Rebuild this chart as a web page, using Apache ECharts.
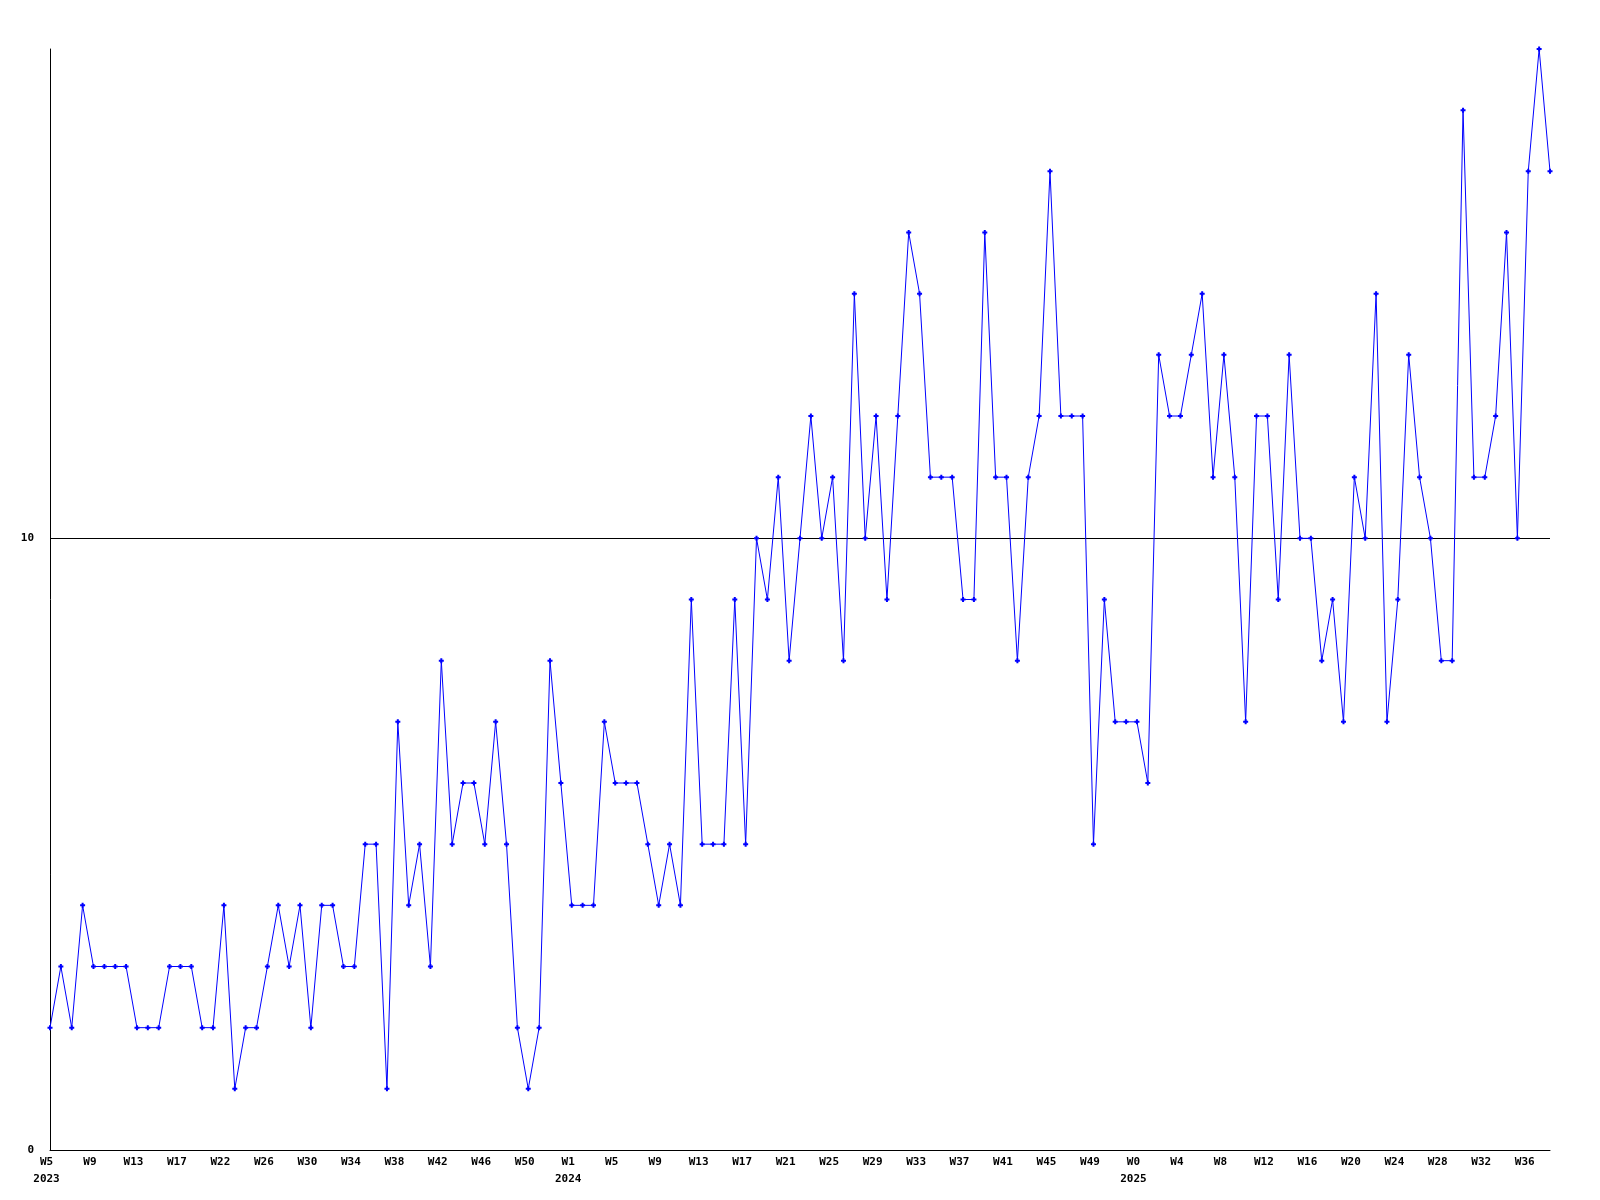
<!DOCTYPE html>
<html>
<head>
<meta charset="utf-8">
<script src="https://cdn.jsdelivr.net/npm/echarts@6/dist/echarts.min.js"></script>
<style>html,body{margin:0;padding:0;background:#fff}#c{width:1600px;height:1200px}</style>
</head>
<body>
<div id="c"></div>
<script>
// Weekly values, 2023 W5 onward
const values = [
  2,3,2,4,3,3,3,3,2,2,2,3,3,3,2,2,4,1,2,
  2,3,4,3,4,2,4,4,3,3,5,5,1,7,4,5,3,8,
  5,6,6,5,7,5,2,1,2,8,6,4,4,4,7,6,6,6,5,
  4,5,4,9,5,5,5,9,5,10,9,11,8,10,12,10,11,8,14,
  10,12,9,12,15,14,11,11,11,9,9,15,11,11,8,11,12,16,12,
  12,12,5,9,7,7,7,6,13,12,12,13,14,11,13,11,7,12,12,
  9,13,10,10,8,9,7,11,10,14,7,9,13,11,10,8,8,17,11,
  11,12,15,10,16,18,16
];
// Tick labels shown every 4th week
const tickLabels = [
  'W5\n2023','W9','W13','W17','W22','W26','W30','W34','W38','W42','W46','W50',
  'W1\n2024','W5','W9','W13','W17','W21','W25','W29','W33','W37','W41','W45','W49',
  'W0\n2025','W4','W8','W12','W16','W20','W24','W28','W32','W36'
];
const yTicks = [0, 10];

const categories = values.map((v, i) => (i % 4 === 0 && tickLabels[i / 4] !== undefined) ? tickLabels[i / 4] : '');

const font = { fontFamily: 'DejaVu Sans Mono', fontWeight: 'bold', fontSize: 11, color: '#000' };

const chart = echarts.init(document.getElementById('c'), null, { renderer: 'canvas' });
chart.setOption({
  animation: false,
  backgroundColor: '#ffffff',
  grid: { left: 50, right: 50, top: 49, bottom: 50, containLabel: false },
  xAxis: {
    type: 'category',
    data: categories,
    boundaryGap: false,
    axisLine: { show: true, lineStyle: { color: '#000', width: 1 } },
    axisTick: { show: false },
    splitLine: { show: false },
    axisLabel: Object.assign({}, font, {
      interval: 3,
      margin: 4,
      lineHeight: 17,
      align: 'center',
      padding: [0, 7, 0, 0]
    })
  },
  yAxis: {
    type: 'value',
    min: 0,
    max: 18,
    interval: 10,
    axisLine: { show: true, lineStyle: { color: '#000', width: 1 } },
    axisTick: { show: false, customValues: yTicks },
    splitLine: { show: true, lineStyle: { color: '#000', width: 1 } },
    axisLabel: Object.assign({}, font, { customValues: yTicks, margin: 16 })
  },
  series: [{
    type: 'line',
    data: values,
    symbol: 'path://M1.5,0H3.5V1.5H5V3.5H3.5V5H1.5V3.5H0V1.5H1.5Z',
    symbolSize: 5,
    showAllSymbol: true,
    itemStyle: { color: '#0000ff' },
    lineStyle: { color: '#0000ff', width: 1 },
    emphasis: { disabled: true }
  }]
});
</script>
</body>
</html>
